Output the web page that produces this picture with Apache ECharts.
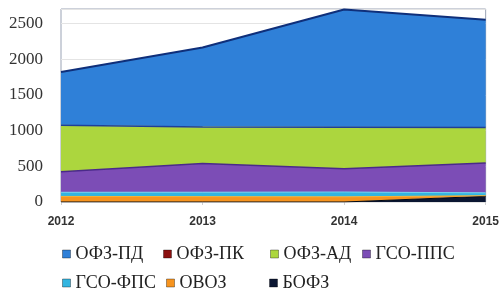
<!DOCTYPE html>
<html>
<head>
<meta charset="utf-8">
<script src="https://cdn.jsdelivr.net/npm/echarts@6/dist/echarts.min.js"></script>
<style>
  html, body { margin: 0; padding: 0; background: #fff; }
  #chart { width: 502px; height: 290px; }
</style>
</head>
<body>
<div id="chart"></div>
<script>
// годы
const years = ['2012', '2013', '2014', '2015']

// объёмы по выпускам (снизу вверх в стеке)
const bofz = [0, 0, 0, 80]
const ovoz = [78, 75, 72, 8]
const gsoFps = [58, 62, 68, 40]
const gsoPps = [286, 401, 324, 419]
const ofzAd = [651, 512, 581, 495]
const ofzPk = [0, 0, 0, 0]
const ofzPd = [745, 1112, 1648, 1507]

const legendNames = ['ОФЗ-ПД', 'ОФЗ-ПК', 'ОФЗ-АД', 'ГСО-ППС', 'ГСО-ФПС', 'ОВОЗ', 'БОФЗ']

const chart = echarts.init(document.getElementById('chart'))

// серия-область
const area = (name, data, color, lineColor, lineWidth) => ({
  name,
  type: 'line',
  stack: 'total',
  data,
  symbol: 'none',
  areaStyle: { color, opacity: 1 },
  itemStyle: { color },
  lineStyle: { color: lineColor, width: lineWidth },
  emphasis: { disabled: true }
})

// позиции элементов легенды (как колонки в Excel)
const legendPos = [
  [62, 245], [163, 245], [270, 245], [362, 245],
  [62, 274], [166, 274], [269, 274]
]

const option = {
  animation: false,
  grid: {
    left: 61,
    right: 14,
    top: 9,
    bottom: 88,
    show: true,
    borderColor: '#9aa3b5',
    borderWidth: 1
  },
  legend: legendNames.map((name, i) => ({
    data: [name],
    left: legendPos[i][0],
    top: legendPos[i][1],
    icon: 'rect',
    itemWidth: 8,
    itemHeight: 8,
    itemStyle: { borderColor: 'rgba(0,0,0,0.35)', borderWidth: 1 },
    padding: 0,
    textStyle: {
      fontFamily: 'Liberation Serif',
      fontSize: 18,
      color: '#222'
    }
  })),
  xAxis: {
    type: 'category',
    boundaryGap: false,
    data: years,
    axisLine: { show: false },
    axisTick: { show: true, length: 3, lineStyle: { color: '#d0d0d0' } },
    axisLabel: {
      fontFamily: 'Liberation Sans',
      fontWeight: 'bold',
      fontSize: 12,
      color: '#333',
      margin: 14
    }
  },
  yAxis: {
    type: 'value',
    min: 0,
    max: 2700,
    interval: 500,
    axisLine: { show: false },
    axisTick: { show: false },
    splitLine: { lineStyle: { color: '#e4e4e4' } },
    axisLabel: {
      showMaxLabel: false,
      formatter: v => String(v),
      fontFamily: 'Liberation Serif',
      fontSize: 17,
      color: '#333',
      margin: 18
    }
  },
  series: [
    area('БОФЗ', bofz, '#0b1632', '#000814', 1),
    area('ОВОЗ', ovoz, '#f7941f', '#f9b030', 1),
    area('ГСО-ФПС', gsoFps, '#33b5e0', '#6fd3f0', 1),
    area('ГСО-ППС', gsoPps, '#7c4db6', '#4a2a8a', 1.5),
    area('ОФЗ-АД', ofzAd, '#acd63e', '#d0ea6a', 1),
    area('ОФЗ-ПК', ofzPk, '#8b1010', '#1f3f98', 1.5),
    area('ОФЗ-ПД', ofzPd, '#2f80d8', '#0f2f7a', 2)
  ]
}

chart.setOption(option)
</script>
</body>
</html>
